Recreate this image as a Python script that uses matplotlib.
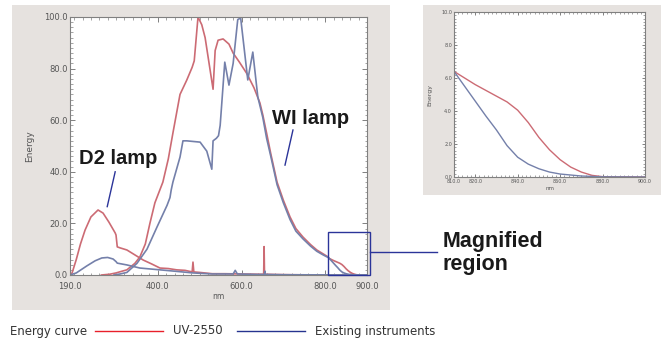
import matplotlib
matplotlib.use("Agg")
import matplotlib.pyplot as plt
from matplotlib.patches import Rectangle
from matplotlib.lines import Line2D
from matplotlib.ticker import MultipleLocator, FixedLocator

# UV-2550 (red), D2 lamp part
uv_d2_nm = [190, 195, 205, 215, 226, 240, 257, 269, 283, 298, 300, 303, 310, 326, 345, 365,
            385, 405, 425, 445, 465, 482, 484, 486, 500, 530, 560, 600, 640, 653, 654, 655,
            680, 720, 800, 900]
uv_d2 = [0, 0.8, 6, 12, 17.4, 22.5, 25.2, 24, 20.5, 16.3, 15.5, 10.9, 10.5, 9.7, 7.8, 5.8,
         4.3, 2.7, 2.5, 2, 1.8, 1.2, 5, 1.2, 1, 0.5, 0.5, 0.4, 0.3, 0.3, 11, 0.3,
         0.2, 0.1, 0, 0]

# UV-2550 (red), WI lamp part
uv_wi_nm = [265, 285, 300, 315, 326, 345, 357, 370, 381, 393, 412, 425, 436, 453, 469, 482,
            487, 496, 505, 513, 532, 537, 544, 556, 570, 580, 595, 613, 630, 644, 651, 660,
            670, 685, 700, 716, 730, 747, 765, 780, 795, 807, 810, 815, 820, 825, 830, 835,
            840, 845, 850, 855, 860, 865, 870, 875, 880, 900]
uv_wi = [0, 0.3, 0.8, 1.5, 2, 4.5, 7, 12, 20, 28, 36, 45, 55, 70, 75.5, 80.5,
         83, 100, 97, 92, 72, 87, 91, 91.5, 89.5, 86, 82.5, 78, 72.5, 66.7, 62, 55,
         47, 36, 29, 22.5, 18, 14.7, 11.8, 9.7, 8.2, 7, 6.4, 6.0, 5.6, 5.25, 4.9, 4.55,
         4.05, 3.3, 2.4, 1.65, 1.05, 0.6, 0.3, 0.1, 0.02, 0]

# existing instruments (blue), D2 lamp part
old_d2_nm = [190, 205, 230, 250, 266, 280, 293, 300, 303, 326, 357, 405, 445, 484, 530, 580,
             585, 590, 640, 655, 656, 657, 700, 900]
old_d2 = [0, 0.8, 3.5, 5.5, 6.6, 6.8, 6.2, 5.2, 4.6, 3.9, 2.7, 2.0, 1.4, 0.8, 0.4, 0.4,
          1.8, 0.4, 0.2, 0.2, 1.5, 0.2, 0.1, 0]

# existing instruments (blue), WI lamp part
old_wi_nm = [295, 310, 326, 350, 374, 398, 422, 429, 432, 436, 453, 460, 469, 501, 517, 529,
             532, 540, 545, 549, 560, 570, 580, 591, 598, 615, 627, 639, 651, 660, 670, 685,
             700, 716, 730, 747, 765, 780, 795, 807, 810, 815, 820, 825, 830, 835, 840, 845,
             850, 855, 860, 870, 880, 900]
old_wi = [0, 0.4, 1, 4.5, 10, 18.6, 27, 30, 33, 36, 45.7, 52, 52, 51.5, 48, 41,
          52, 53, 54, 58, 82.5, 73.6, 82, 99, 99.6, 75.6, 86.4, 69, 61, 53, 46, 35,
          28, 21.5, 17, 14, 11.2, 9.2, 7.8, 6.8, 6.4, 5.5, 4.6, 3.7, 2.85, 1.9, 1.2, 0.78,
          0.5, 0.3, 0.18, 0.06, 0.01, 0]

main_xticks = [190, 400, 600, 800, 900]
main_yticks = [0, 20, 40, 60, 80, 100]
zoom_xticks = [810, 820, 840, 860, 880, 900]
zoom_yticks = [0, 2, 4, 6, 8, 10]

RED = "#cc6b74"
BLUE = "#7480aa"
PANEL = "#e6e2df"
MARK = "#2b3499"

W, H = 663, 350
fig = plt.figure(figsize=(W / 100, H / 100), dpi=100)
fig.patch.set_facecolor("white")


def box(left, top, right, bottom):
    # pixel box -> figure fraction [l, b, w, h]
    return [left / W, 1 - bottom / H, (right - left) / W, (bottom - top) / H]


# grey panels behind the two plots
for l, t, r, b in [(12, 5, 390, 310), (423, 5, 661, 195)]:
    fig.patches.append(Rectangle((l / W, 1 - b / H), (r - l) / W, (b - t) / H,
                                 transform=fig.transFigure, facecolor=PANEL,
                                 edgecolor="none", zorder=-10))


def style(ax, size):
    ax.set_facecolor("white")
    for s in ax.spines.values():
        s.set_color("#808080")
        s.set_linewidth(0.8)
    ax.tick_params(which="both", direction="in", top=True, right=True,
                   colors="#808080", labelcolor="#555555", labelsize=size, pad=1.5)
    ax.tick_params(which="major", length=3.5, width=0.7)
    ax.tick_params(which="minor", length=1.8, width=0.5)


ax = fig.add_axes(box(70, 17, 367, 275))
ax.plot(uv_d2_nm, uv_d2, color=RED, lw=1.2)
ax.plot(uv_wi_nm, uv_wi, color=RED, lw=1.2)
ax.plot(old_d2_nm, old_d2, color=BLUE, lw=1.2)
ax.plot(old_wi_nm, old_wi, color=BLUE, lw=1.2)
ax.set_xlim(190, 900)
ax.set_ylim(0, 100)
ax.xaxis.set_major_locator(FixedLocator(main_xticks))
ax.yaxis.set_major_locator(FixedLocator(main_yticks))
ax.set_xticklabels(["%.1f" % v for v in main_xticks])
ax.set_yticklabels(["%.1f" % v for v in main_yticks])
ax.xaxis.set_minor_locator(MultipleLocator(20))
ax.yaxis.set_minor_locator(MultipleLocator(2))
style(ax, 6)
ax.tick_params(axis="x", pad=5)
ax.set_xlabel("nm", fontsize=5.5, color="#555555", labelpad=1)
ax.set_ylabel("Energy", fontsize=6.5, color="#555555", labelpad=7)

# lamp labels
bold = dict(fontsize=14.5, fontweight="bold", family="Liberation Sans", color="#1a1a1a")
ax.text(305, 45.3, "D2 lamp", ha="center", va="center", **bold)
ax.plot([298, 279], [40, 26.5], color=MARK, lw=1)
ax.text(764, 60.5, "WI lamp", ha="center", va="center", **bold)
ax.plot([723, 704], [56.2, 42.6], color=MARK, lw=1)

# magnified region box and its pointer
ax.add_patch(Rectangle((807, 0), 100, 16.7, fill=False, edgecolor=MARK, lw=1,
                       clip_on=False, zorder=5))
fig.lines.append(Line2D([370 / W, 437 / W], [1 - 252 / H, 1 - 252 / H],
                        transform=fig.transFigure, color=MARK, lw=1))
fig.text(443 / W, 1 - 253 / H, "Magnified\nregion", ha="left", va="center",
         fontsize=15.5, fontweight="bold", family="Liberation Sans", color="#1a1a1a",
         linespacing=1.1)

# magnified view
ins = fig.add_axes(box(454, 12, 645, 177))
ins.plot(uv_wi_nm, uv_wi, color=RED, lw=1)
ins.plot(old_wi_nm, old_wi, color=BLUE, lw=1)
ins.set_xlim(810, 900)
ins.set_ylim(0, 10)
ins.xaxis.set_major_locator(FixedLocator(zoom_xticks))
ins.yaxis.set_major_locator(FixedLocator(zoom_yticks))
ins.set_xticklabels(["%.1f" % v for v in zoom_xticks])
ins.set_yticklabels(["%.1f" % v for v in zoom_yticks])
ins.xaxis.set_minor_locator(MultipleLocator(2))
ins.yaxis.set_minor_locator(MultipleLocator(0.2))
style(ins, 3.5)
ins.tick_params(which="major", length=2.5)
ins.tick_params(which="minor", length=1.2)
ins.set_xlabel("nm", fontsize=4, color="#555555", labelpad=1.5)
ins.set_ylabel("Energy", fontsize=4.5, color="#555555", labelpad=6)

# legend line at the bottom
leg = dict(fontsize=9.4, family="DejaVu Sans", fontstretch="condensed",
           color="#333333", va="center", ha="left")
yl = 1 - 331 / H
fig.text(10 / W, yl, "Energy curve", **leg)
fig.lines.append(Line2D([95 / W, 163 / W], [yl, yl], transform=fig.transFigure,
                        color="#e8202a", lw=1))
fig.text(173 / W, yl, "UV-2550", **leg)
fig.lines.append(Line2D([237 / W, 305 / W], [yl, yl], transform=fig.transFigure,
                        color="#26338f", lw=1))
fig.text(315 / W, yl, "Existing instruments", **leg)

fig.savefig("out.png", dpi=100)
